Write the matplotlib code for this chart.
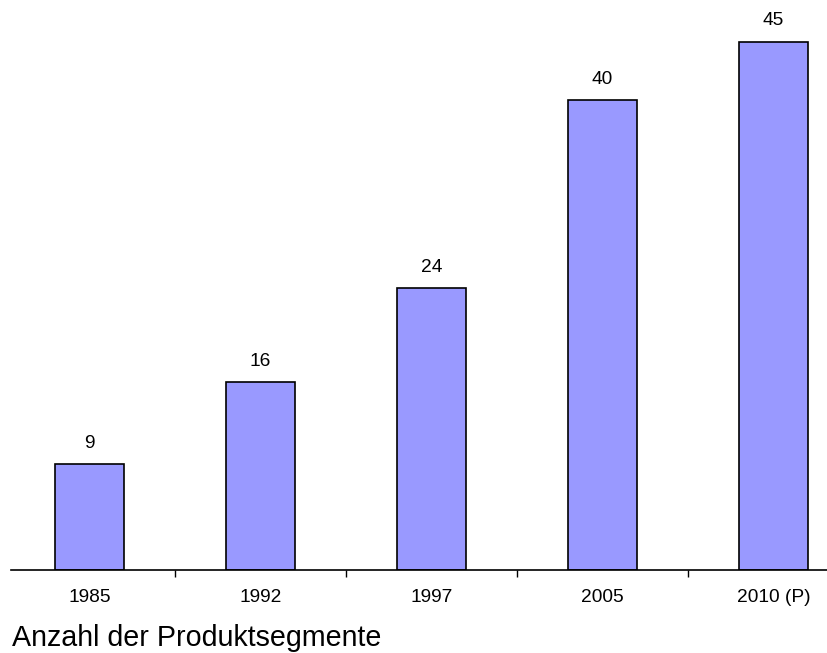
import matplotlib
matplotlib.use("Agg")
import matplotlib.pyplot as plt
import numpy as np

plt.rcParams['font.family'] = ['Liberation Sans', 'DejaVu Sans']

years = ["1985", "1992", "1997", "2005", "2010 (P)"]
segments = [9, 16, 24, 40, 45]

fig = plt.figure(figsize=(8.28, 6.53), dpi=100)
ax = fig.add_axes([11 / 828, 83 / 653, 817 / 828, 570 / 653])

x = np.arange(len(years))
ax.bar(x, segments, width=0.40, color="#9999FF", edgecolor="black", linewidth=1.2, zorder=2)

for xi, v in zip(x, segments):
    ax.annotate(str(v), (xi, v), xytext=(0, 9), textcoords="offset points",
                ha="center", va="bottom", fontsize=13.8)

ax.set_xlim(-0.459, 4.319)
ax.set_ylim(0, 48.55)

for side in ["top", "right", "left"]:
    ax.spines[side].set_visible(False)
ax.spines["bottom"].set_linewidth(1.2)
ax.set_yticks([])

ax.set_xticks(x)
ax.set_xticklabels(years, fontsize=13.8)
ax.tick_params(axis="x", which="major", length=0, pad=14)
ax.set_xticks(x[:-1] + 0.5, minor=True)
ax.tick_params(axis="x", which="minor", length=5, width=1, direction="out")

fig.text(12 / 828, 1 - 638 / 653, "Anzahl der Produktsegmente", fontsize=20.6,
         ha="left", va="center")

fig.savefig("out.png", dpi=100)
